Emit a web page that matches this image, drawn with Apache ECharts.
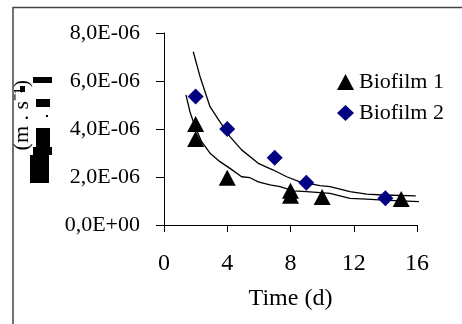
<!DOCTYPE html>
<html>
<head>
<meta charset="utf-8">
<script src="https://cdn.jsdelivr.net/npm/echarts@6/dist/echarts.min.js"></script>
<style>
  body { margin: 0; background: #fff; }
  #chart { width: 462px; height: 324px; }
</style>
</head>
<body>
<div id="chart"></div>
<script>
// measured points: [time (d), k (m/s)]
var biofilm1 = [[2, 4.21e-6], [2, 3.58e-6], [4, 1.97e-6], [8, 1.43e-6], [8, 1.22e-6], [10, 1.17e-6], [15, 1.08e-6]];
var biofilm2 = [[2, 5.35e-6], [4, 4.0e-6], [7, 2.8e-6], [9, 1.76e-6], [14, 1.11e-6]];

// trend curves
var fit1 = [[1.39, 5.42e-6], [1.64, 4.72e-6], [1.96, 4.10e-6], [2.38, 3.47e-6], [2.91, 2.99e-6], [3.54, 2.64e-6],
  [4.17, 2.36e-6], [4.91, 2.01e-6], [5.44, 1.97e-6], [5.96, 1.80e-6], [6.70, 1.67e-6], [7.34, 1.60e-6],
  [8.18, 1.42e-6], [9.02, 1.39e-6], [10.5, 1.32e-6], [11.76, 1.11e-6], [12.82, 1.08e-6], [13.87, 1.04e-6], [16.4, 0.97e-6]];
var fit2 = [[1.85, 7.22e-6], [2.28, 6.18e-6], [2.91, 4.93e-6], [3.54, 4.30e-6], [4.17, 3.68e-6], [4.91, 3.13e-6],
  [5.96, 2.57e-6], [6.91, 2.29e-6], [7.76, 2.01e-6], [8.60, 1.80e-6], [9.87, 1.64e-6], [10.5, 1.60e-6],
  [11.76, 1.39e-6], [12.82, 1.29e-6], [13.85, 1.25e-6], [15.92, 1.21e-6]];

var xTicks = [0, 4, 8, 12, 16];
var yTicks = [0, 2e-6, 4e-6, 6e-6, 8e-6];

var serif = "'Liberation Serif', 'Times New Roman', serif";

function sci(v) {
  if (Math.abs(v) < 1e-12) return '0,0E+00';
  var e = Math.floor(Math.log10(v) + 1e-9);
  var m = v / Math.pow(10, e);
  return m.toFixed(1).replace('.', ',') + 'E' + (e < 0 ? '-' : '+') + String(Math.abs(e)).padStart(2, '0');
}

var myChart = echarts.init(document.getElementById('chart'));
var option = {
  backgroundColor: '#fff',
  animation: false,
  grid: { left: 164, right: 45, top: 33, bottom: 99 },
  legend: {
    orient: 'vertical',
    left: 332,
    top: 66,
    itemWidth: 17,
    itemHeight: 16,
    itemGap: 9,
    textStyle: { fontFamily: serif, fontSize: 22, color: '#000' },
    data: [
      { name: 'Biofilm 1', icon: 'triangle', itemStyle: { color: '#000' } },
      { name: 'Biofilm 2', icon: 'diamond', itemStyle: { color: '#000080' } }
    ]
  },
  xAxis: {
    type: 'value',
    min: xTicks[0],
    max: xTicks[xTicks.length - 1],
    interval: 4,
    name: 'Time (d)',
    nameLocation: 'middle',
    nameGap: 62,
    nameTextStyle: { fontFamily: serif, fontSize: 24, color: '#000' },
    axisLine: { lineStyle: { color: '#000', width: 1 } },
    axisTick: { length: 7, lineStyle: { color: '#000' } },
    axisLabel: { margin: 27, fontFamily: serif, fontSize: 24, color: '#000' },
    splitLine: { show: false }
  },
  yAxis: {
    type: 'value',
    min: yTicks[0],
    max: yTicks[yTicks.length - 1],
    interval: 2e-6,
    axisLine: { show: true, lineStyle: { color: '#000', width: 1 } },
    axisTick: { show: true, length: 8, lineStyle: { color: '#000' } },
    axisLabel: { margin: 24, fontFamily: serif, fontSize: 22, color: '#000', formatter: sci },
    splitLine: { show: false }
  },
  graphic: [
    { type: 'polyline', silent: true, shape: { points: [[13, 324], [13, 7.5], [462, 7.5]] },
      style: { stroke: '#444', lineWidth: 1.5, fill: null } },
    { type: 'text', left: 11, top: 80, rotation: Math.PI / 2,
      style: { text: '(m . s\u207B\u00B9)', font: "22px 'Liberation Serif', serif", fill: '#000' } },
    { type: 'rect', shape: { x: 33, y: 77, width: 19, height: 6 }, style: { fill: '#000' } },
    { type: 'rect', shape: { x: 20, y: 86, width: 5, height: 6 }, style: { fill: '#000' } },
    { type: 'rect', shape: { x: 36, y: 99, width: 14, height: 8 }, style: { fill: '#000' } },
    { type: 'rect', shape: { x: 46, y: 115, width: 2, height: 2 }, style: { fill: '#000' } },
    { type: 'rect', shape: { x: 36, y: 128, width: 14, height: 19 }, style: { fill: '#000' } },
    { type: 'rect', shape: { x: 33, y: 147, width: 19, height: 8 }, style: { fill: '#000' } },
    { type: 'rect', shape: { x: 30, y: 155, width: 19, height: 28 }, style: { fill: '#000' } }
  ],
  series: [
    {
      name: 'fit1', type: 'line', data: fit1, showSymbol: false, clip: false, silent: true,
      lineStyle: { color: '#000', width: 1.3 }, z: 1
    },
    {
      name: 'fit2', type: 'line', data: fit2, showSymbol: false, clip: false, silent: true,
      lineStyle: { color: '#000', width: 1.3 }, z: 1
    },
    {
      name: 'Biofilm 1', type: 'scatter', data: biofilm1, symbol: 'triangle', symbolSize: [17, 16],
      itemStyle: { color: '#000', opacity: 1 }, z: 3
    },
    {
      name: 'Biofilm 2', type: 'scatter', data: biofilm2, symbol: 'diamond', symbolSize: 16,
      itemStyle: { color: '#000080', opacity: 1 }, z: 3
    }
  ]
};
myChart.setOption(option, true);
</script>
</body>
</html>
